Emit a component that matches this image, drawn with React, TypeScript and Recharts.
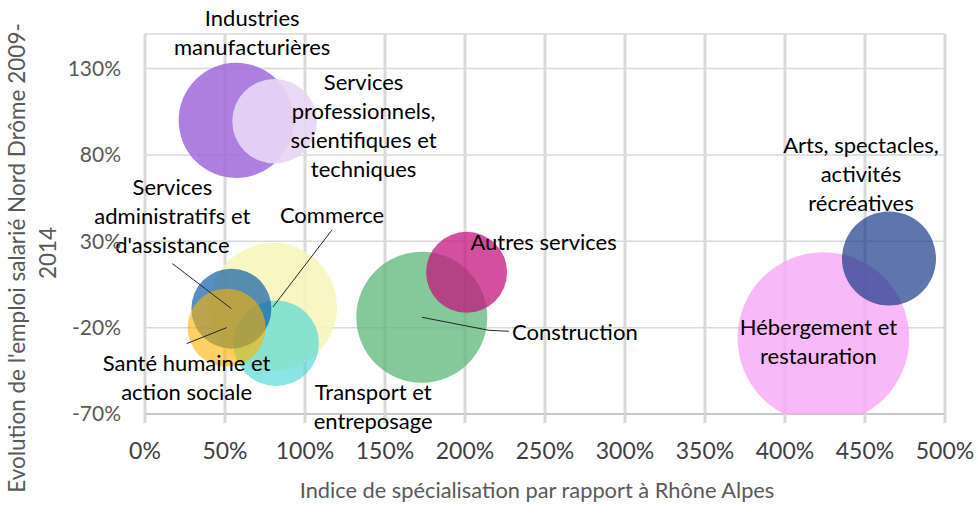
import {
  CartesianGrid,
  Scatter,
  ScatterChart,
  XAxis,
  YAxis,
  ZAxis,
} from "recharts";

// secteurs, dans l'ordre de tracé des bulles
const sectors = [
  "Commerce",
  "Transport et entreposage",
  "Services administratifs et d'assistance",
  "Santé humaine et action sociale",
  "Industries manufacturières",
  "Services professionnels, scientifiques et techniques",
  "Construction",
  "Autres services",
  "Hébergement et restauration",
  "Arts, spectacles, activités récréatives",
];
// indice de spécialisation par rapport à Rhône Alpes (%)
const specialisation = [80, 82, 54, 51, 57, 81, 173, 201, 424, 465];
// évolution de l'emploi salarié Nord Drôme 2009-2014 (%)
const evolution = [-8, -29, -9, -20, 100, 99.5, -14, 12, -26, 20];
// taille des bulles (effectifs)
const effectif = [410, 183, 160, 152, 331, 179, 429, 164, 736, 221];

const xTicks = [0, 50, 100, 150, 200, 250, 300, 350, 400, 450, 500];
const yTicks = [-70, -20, 30, 80, 130];

const points = sectors.map((name, i) => ({
  name,
  x: specialisation[i],
  y: evolution[i],
  z: effectif[i],
}));

const W = 978;
const H = 515;
const MARGIN = { top: 34, right: 33, bottom: 0, left: 0 };
const Y_AXIS_W = 145;
const X_AXIS_H = 101;
const PLOT_BOTTOM = H - MARGIN.bottom - X_AXIS_H;
const MAX_R = 85.8;
const FONT = "Lato, 'Open Sans', sans-serif";
const LABEL_SIZE = 22;
const LINE_H = 29;

const bubbleStyle: Record<string, { fill: string; opacity: number }> = {
  Commerce: { fill: "#f7f6b9", opacity: 0.85 },
  "Transport et entreposage": { fill: "#4dd7d7", opacity: 0.65 },
  "Services administratifs et d'assistance": { fill: "#0a58a8", opacity: 0.68 },
  "Santé humaine et action sociale": { fill: "#fcb300", opacity: 0.6 },
  "Industries manufacturières": { fill: "#9d68da", opacity: 0.85 },
  "Services professionnels, scientifiques et techniques": { fill: "#e7d6f5", opacity: 0.92 },
  Construction: { fill: "#5cb778", opacity: 0.75 },
  "Autres services": { fill: "#c3167e", opacity: 0.75 },
  "Hébergement et restauration": { fill: "#f8a7f8", opacity: 0.8 },
  "Arts, spectacles, activités récréatives": { fill: "#0b2f80", opacity: 0.66 },
};

// position of each data label relative to its bubble, words per line, leader line
type LabelLayout = { dx: number; dy: number; words: number[]; leader?: number[][] };
const labelLayout: Record<string, LabelLayout> = {
  Commerce: { dx: 59, dy: -92, words: [1], leader: [[0, 15]] },
  "Transport et entreposage": { dx: 97, dy: 64, words: [2, 1] },
  "Services administratifs et d'assistance": { dx: -59, dy: -92, words: [1, 2, 1], leader: [[0, 47]] },
  "Santé humaine et action sociale": { dx: -40, dy: 50, words: [3, 2], leader: [[0, -34]] },
  "Industries manufacturières": { dx: 16, dy: -88, words: [1, 1] },
  "Services professionnels, scientifiques et techniques": { dx: 89, dy: 5, words: [1, 1, 2, 1] },
  Construction: { dx: 153, dy: 15, words: [1], leader: [[-66, -1], [-86, -2]] },
  "Autres services": { dx: 77, dy: -30, words: [2] },
  "Hébergement et restauration": { dx: -5, dy: 4, words: [2, 1] },
  "Arts, spectacles, activités récréatives": { dx: -28, dy: -84, words: [2, 1, 1] },
};

function splitLines(name: string, words: number[]) {
  const parts = name.split(" ");
  const out: string[] = [];
  let k = 0;
  for (const n of words) {
    out.push(parts.slice(k, k + n).join(" "));
    k += n;
  }
  return out;
}

function Bubble(props: any) {
  const { cx, cy, width, size, payload } = props;
  const r = width ? width / 2 : Math.sqrt(size / Math.PI);
  const st = bubbleStyle[payload.name];
  const id = "clip-" + sectors.indexOf(payload.name);
  return (
    <g>
      <defs>
        <clipPath id={id}>
          <rect x={0} y={0} width={W} height={PLOT_BOTTOM} />
        </clipPath>
      </defs>
      <circle
        cx={cx}
        cy={cy}
        r={r}
        fill={st.fill}
        fillOpacity={st.opacity}
        clipPath={`url(#${id})`}
      />
    </g>
  );
}

function SectorLabel(props: any) {
  const { cx, cy, payload } = props;
  const lay = labelLayout[payload.name];
  const lx = cx + lay.dx;
  const ly = cy + lay.dy;
  const lines = splitLines(payload.name, lay.words);
  const n = lines.length;
  return (
    <g>
      {lay.leader && (
        <polyline
          points={[...lay.leader.map((p) => [lx + p[0], ly + p[1]]), [cx, cy]]
            .map((p) => p.join(","))
            .join(" ")}
          fill="none"
          stroke="#262626"
          strokeWidth={1}
        />
      )}
      {lines.map((t, i) => (
        <text
          key={i}
          x={lx}
          y={ly + (i - (n - 1) / 2) * LINE_H}
          dy="0.35em"
          textAnchor="middle"
          fontSize={LABEL_SIZE}
          fontFamily={FONT}
          fill="#000"
        >
          {t}
        </text>
      ))}
    </g>
  );
}

const YTitle = () => (
  <g fill="#595959" fontSize={22.5} fontFamily={FONT}>
    <text x={17} y={258} dy="0.35em" textAnchor="middle" transform="rotate(-90 17 258)">
      Evolution de l'emploi salarié Nord Drôme 2009-
    </text>
    <text x={48} y={253} dy="0.35em" textAnchor="middle" transform="rotate(-90 48 253)">
      2014
    </text>
  </g>
);

const XTitle = () => (
  <text x={537} y={490} dy="0.35em" textAnchor="middle" fill="#595959" fontSize={21.8} fontFamily={FONT}>
    Indice de spécialisation par rapport à Rhône Alpes
  </text>
);

export default function App() {
  return (
    <div style={{ position: "absolute", left: 0, top: 0, width: W, height: H, background: "#fff" }}>
      <ScatterChart width={W} height={H} margin={MARGIN}>
        <CartesianGrid vertical={false} stroke="#d9d9d9" strokeWidth={1.5} />
        <CartesianGrid horizontal={false} stroke="#d9d9d9" strokeWidth={3} />
        <XAxis
          type="number"
          dataKey="x"
          domain={[0, 500]}
          ticks={xTicks}
          tickFormatter={(v) => `${v}%`}
          axisLine={{ stroke: "#bfbfbf", strokeWidth: 1.5 }}
          tickLine={{ stroke: "#d9d9d9", strokeWidth: 3 }}
          tickSize={9}
          tickMargin={20}
          tick={{ fill: "#404040", fontSize: 23, fontFamily: FONT }}
          height={X_AXIS_H}
          label={{ content: XTitle }}
        />
        <YAxis
          type="number"
          dataKey="y"
          domain={[-70, 150]}
          ticks={yTicks}
          tickFormatter={(v) => `${v}%`}
          axisLine={false}
          tickLine={false}
          tickSize={0}
          tickMargin={24}
          tick={{ fill: "#595959", fontSize: 21, fontFamily: FONT }}
          width={Y_AXIS_W}
          label={{ content: YTitle }}
        />
        <ZAxis
          type="number"
          dataKey="z"
          domain={[0, Math.max(...effectif)]}
          range={[0, Math.PI * MAX_R * MAX_R]}
        />
        {points.map((p) => (
          <Scatter
            key={p.name}
            name={p.name}
            data={[p]}
            shape={Bubble}
            isAnimationActive={false}
          />
        ))}
        <Scatter data={points} shape={SectorLabel} isAnimationActive={false} />
      </ScatterChart>
    </div>
  );
}
